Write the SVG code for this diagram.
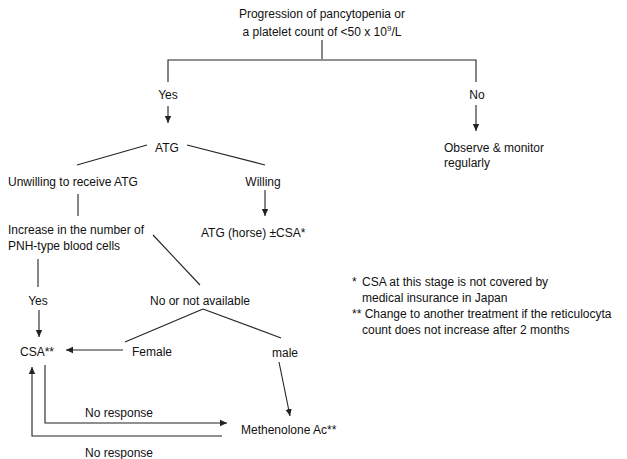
<svg xmlns="http://www.w3.org/2000/svg" width="627" height="459" viewBox="0 0 627 459">
<style>
text{font-family:"Liberation Sans",Arial,sans-serif;font-size:12px;fill:#111}
.m{text-anchor:middle}
.ln{stroke:#222;stroke-width:1.1;fill:none}
</style>
<defs>
<marker id="ah" markerWidth="8" markerHeight="8" refX="7" refY="4" orient="auto" markerUnits="userSpaceOnUse">
<path d="M0,0.8 L7,4 L0,7.2 Z" fill="#222"/>
</marker>
</defs>
<rect width="627" height="459" fill="#fff"/>
<g id="connectors">
<line class="ln" x1="322" y1="40" x2="322" y2="59"/>
<polyline class="ln" points="168,82 168,60 476,60 476,82"/>
<line class="ln" x1="168" y1="106" x2="168" y2="123" marker-end="url(#ah)"/>
<line class="ln" x1="476" y1="105" x2="476" y2="131" marker-end="url(#ah)"/>
<line class="ln" x1="147" y1="145" x2="77" y2="165"/>
<line class="ln" x1="187" y1="145" x2="265" y2="165"/>
<line class="ln" x1="78" y1="194" x2="78" y2="216"/>
<line class="ln" x1="265" y1="190" x2="265" y2="216" marker-end="url(#ah)"/>
<line class="ln" x1="153" y1="235" x2="200" y2="285"/>
<line class="ln" x1="38" y1="259" x2="38" y2="287"/>
<line class="ln" x1="39" y1="310" x2="39" y2="337" marker-end="url(#ah)"/>
<line class="ln" x1="203" y1="309" x2="125" y2="342"/>
<line class="ln" x1="203" y1="309" x2="281" y2="338"/>
<line class="ln" x1="123" y1="350" x2="66" y2="350" marker-end="url(#ah)"/>
<line class="ln" x1="279" y1="362" x2="290" y2="416" marker-end="url(#ah)"/>
<polyline class="ln" points="45,365 45,423 227,423" marker-end="url(#ah)"/>
<polyline class="ln" points="222,436 32,436 32,367" marker-end="url(#ah)"/>
</g>
<g id="n-start"><text class="m" x="322" y="18">Progression of pancytopenia or</text><text class="m" x="322" y="36">a platelet count of &lt;50 x 10<tspan font-size="8" dy="-5">9</tspan><tspan dy="5">/L</tspan></text></g>
<g id="n-yes1"><text class="m" x="168" y="99">Yes</text></g>
<g id="n-no1"><text class="m" x="477" y="99">No</text></g>
<g id="n-observe"><text x="444" y="152">Observe &amp; monitor</text><text x="444" y="167">regularly</text></g>
<g id="n-atg"><text class="m" x="167" y="152">ATG</text></g>
<g id="n-unwilling"><text x="8" y="186">Unwilling to receive ATG</text></g>
<g id="n-willing"><text class="m" x="263" y="186">Willing</text></g>
<g id="n-atghorse"><text x="201" y="237">ATG (horse) ±CSA*</text></g>
<g id="n-increase"><text x="8" y="234">Increase in the number of</text><text x="8" y="250">PNH-type blood cells</text></g>
<g id="n-yes2"><text class="m" x="38" y="305">Yes</text></g>
<g id="n-nona"><text class="m" x="200" y="305">No or not available</text></g>
<g id="n-csa"><text x="20" y="356">CSA**</text></g>
<g id="n-female"><text x="132" y="356">Female</text></g>
<g id="n-male"><text x="272" y="357">male</text></g>
<g id="n-methenolone"><text x="241" y="434">Methenolone Ac**</text></g>
<g id="l-noresp1"><text x="85" y="417">No response</text></g>
<g id="l-noresp2"><text x="85" y="457">No response</text></g>
<g id="notes">
<text x="352" y="286">*</text><text x="362" y="286">CSA at this stage is not covered by</text>
<text x="362" y="302">medical insurance in Japan</text>
<text x="352" y="318">** Change to another treatment if the reticulocyta</text>
<text x="362" y="334">count does not increase after 2 months</text>
</g>
</svg>
